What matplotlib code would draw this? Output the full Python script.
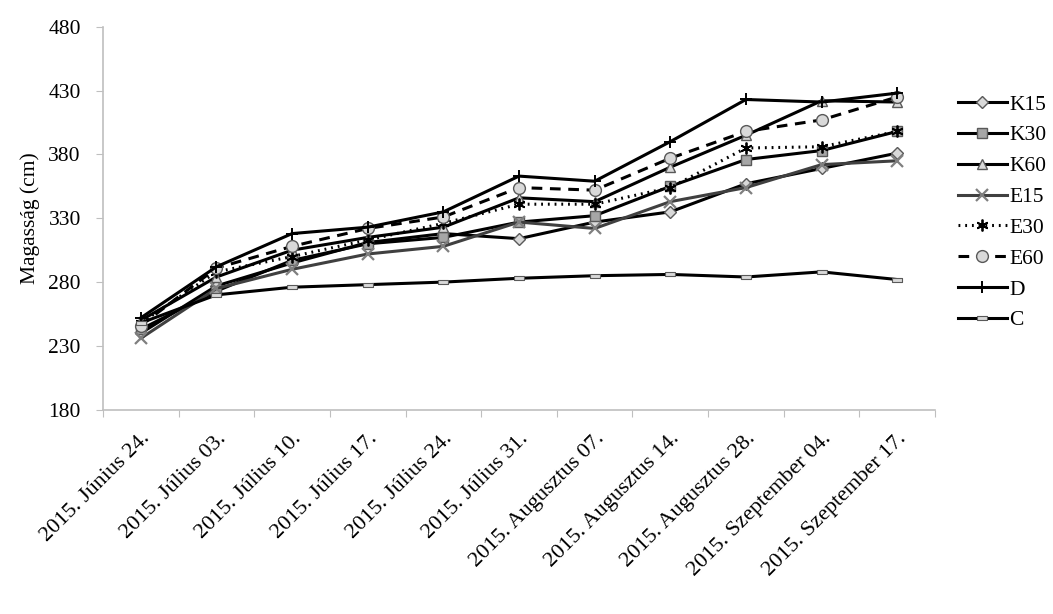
import matplotlib

matplotlib.use("Agg")

import matplotlib.pyplot as plt
import numpy as np
from matplotlib.path import Path

plt.rcParams["font.family"] = ["Liberation Serif", "DejaVu Serif"]

datumok = [
    "2015. Június 24.", "2015. Július 03.", "2015. Július 10.", "2015. Július 17.",
    "2015. Július 24.", "2015. Július 31.", "2015. Augusztus 07.", "2015. Augusztus 14.",
    "2015. Augusztus 28.", "2015. Szeptember 04.", "2015. Szeptember 17.",
]

K15 = [240, 277, 295, 311, 318, 314, 327, 335, 357, 369, 381]
K30 = [243, 273, 297, 310, 315, 327, 332, 355, 376, 383, 398]
K60 = [250, 284, 305, 315, 323, 346, 343, 370, 395, 422, 421]
E15 = [236, 275, 290, 302, 308, 327, 322, 343, 354, 372, 375]
E30 = [248, 288, 300, 313, 326, 341, 341, 354, 385, 386, 398]
E60 = [246, 291, 308, 322, 331, 354, 352, 377, 398, 407, 425]
D = [252, 292, 318, 323, 335, 363, 359, 390, 423, 421, 428]
C = [248, 270, 276, 278, 280, 283, 285, 286, 284, 288, 282]

y_ticks = [180, 230, 280, 330, 380, 430, 480]

VILAGOS = "#d9d9d9"
SZURKE = "#a6a6a6"
KERET = "#595959"

# Excel-szeru "-" jelolo: lapos teglalap
lapos = Path([(-1, -0.35), (1, -0.35), (1, 0.35), (-1, 0.35), (-1, -0.35)],
             [Path.MOVETO, Path.LINETO, Path.LINETO, Path.LINETO, Path.CLOSEPOLY])

sorozatok = [
    ("K15", K15, dict(color="black", ls="-", marker="D", ms=6.5, mfc=VILAGOS, mec=KERET)),
    ("K30", K30, dict(color="black", ls="-", marker="s", ms=7.5, mfc=SZURKE, mec=KERET)),
    ("K60", K60, dict(color="black", ls="-", marker="^", ms=7.5, mfc=VILAGOS, mec=KERET)),
    ("E15", E15, dict(color="#404040", ls="-", marker="x", ms=8.5, mec="#7f7f7f", mew=1.6)),
    ("E30", E30, dict(color="black", ls=(0, (0.6, 1.6)), marker=(6, 2, 0), ms=8.5, mec="black", mew=1.3)),
    ("E60", E60, dict(color="black", ls=(0, (3.5, 2.5)), marker="o", ms=8.5, mfc=VILAGOS, mec=KERET)),
    ("D", D, dict(color="black", ls="-", marker="+", ms=8, mec="black", mew=1.4)),
    ("C", C, dict(color="black", ls="-", marker=lapos, ms=7, mfc=VILAGOS, mec=KERET, mew=0.8)),
]

fig = plt.figure(figsize=(10.53, 6.14), dpi=100)
ax = fig.add_axes([0.0978, 0.3326, 0.7902, 0.6239])

x = np.arange(len(datumok))
for nev, ertekek, stilus in sorozatok:
    ax.plot(x, ertekek, label=nev, lw=2.2, **stilus)

ax.set_xlim(-0.5, len(datumok) - 0.5)
ax.set_ylim(180, 480)
ax.set_yticks(y_ticks)
ax.set_ylabel("Magasság (cm)", fontsize=15.5, labelpad=6)

# osztasok a kategoriak hataran, feliratok a kozepukon
ax.set_xticks(np.arange(-0.5, len(datumok)), labels=[])
ax.set_xticks(x, minor=True)
ax.set_xticklabels(datumok, minor=True, rotation=45, ha="right", va="top",
                   rotation_mode="anchor", fontsize=16)
ax.tick_params(axis="x", which="minor", length=0, pad=14)
ax.tick_params(axis="x", which="major", length=5, color="#bfbfbf")
ax.tick_params(axis="y", length=5, color="#bfbfbf", labelsize=15.5, pad=11)

for oldal in ("top", "right"):
    ax.spines[oldal].set_visible(False)
for oldal in ("left", "bottom"):
    ax.spines[oldal].set_color("#bfbfbf")
    ax.spines[oldal].set_linewidth(1.2)

ax.legend(loc="center left", bbox_to_anchor=(1.027, 0.515), frameon=False,
          fontsize=15.5, handlelength=2.3, handletextpad=0.1, labelspacing=0.5,
          borderaxespad=0, borderpad=0)

fig.savefig("out.png", dpi=100)
